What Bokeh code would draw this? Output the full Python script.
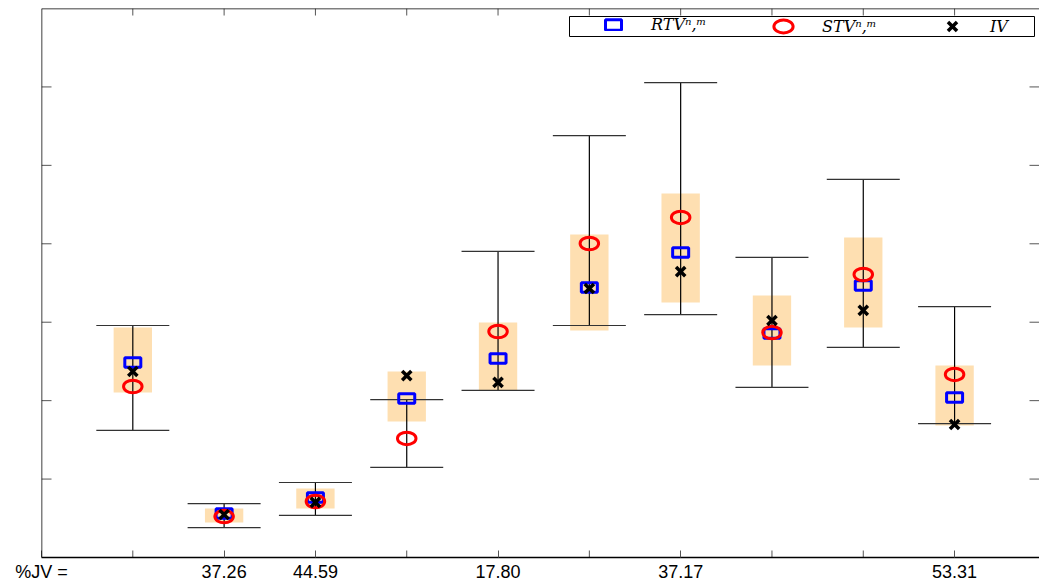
import math
from bokeh.plotting import figure
from bokeh.models import (ColumnDataSource, Whisker, TeeHead, Legend, LegendItem,
                          LinearAxis, FixedTicker, BoxAnnotation, Range1d, Span)
from bokeh.embed import file_html
from bokeh.resources import INLINE

# ---- data ----
positions = [1, 2, 3, 4, 5, 6, 7, 8, 9, 10]
jv_ticks = [0, 2, 3, 5, 7, 10]
jv_labels = ["%JV =", "37.26", "44.59", "17.80", "37.17", "53.31"]
whisker_high = [0.1479, 0.0344, 0.0478, 0.1007, 0.1951, 0.2690, 0.3028, 0.1913, 0.2410, 0.1600]
whisker_low = [0.0810, 0.0191, 0.0268, 0.0574, 0.1065, 0.1479, 0.1549, 0.1084, 0.1339, 0.0854]
box_high = [0.1466, 0.0312, 0.0440, 0.1186, 0.1498, 0.2059, 0.2321, 0.1670, 0.2040, 0.1224]
box_low = [0.1052, 0.0223, 0.0312, 0.0867, 0.1065, 0.1447, 0.1626, 0.1224, 0.1466, 0.0842]
rtv = [0.1243, 0.0281, 0.0383, 0.1014, 0.1269, 0.1721, 0.1944, 0.1428, 0.1734, 0.1020]
stv = [0.1090, 0.0261, 0.0357, 0.0759, 0.1441, 0.2002, 0.2168, 0.1434, 0.1804, 0.1167]
iv = [0.1186, 0.0274, 0.0351, 0.1160, 0.1116, 0.1715, 0.1823, 0.1511, 0.1575, 0.0848]
y_ticks = [0.05, 0.10, 0.15, 0.20, 0.25, 0.30]

X0, X1 = 0.0, 10.93
Y0, Y1 = 0.0, 0.35

src = ColumnDataSource(dict(x=positions, whi=whisker_high, wlo=whisker_low,
                            bhi=box_high, blo=box_low, rtv=rtv, stv=stv, iv=iv))

p = figure(frame_width=998, frame_height=549,
           x_range=Range1d(X0, X1), y_range=Range1d(Y0, Y1),
           output_backend="svg", toolbar_location=None,
           x_axis_location=None, y_axis_location=None,
           min_border_left=41, min_border_top=8, min_border_right=0, min_border_bottom=0)
p.outline_line_color = None
p.xgrid.visible = False
p.ygrid.visible = False
p.background_fill_color = "white"

# bottom axis with the %JV labels
xb = LinearAxis(ticker=FixedTicker(ticks=jv_ticks),
                major_label_overrides={t: l for t, l in zip(jv_ticks, jv_labels)})
xb.axis_line_color = "black"
xb.axis_line_width = 1.5
xb.major_tick_in = 7
xb.major_tick_out = 0
xb.major_tick_line_color = "#555555"
xb.minor_tick_line_color = None
xb.major_label_standoff = 4
xb.major_label_text_font = "Liberation Sans"
xb.major_label_text_font_size = "18px"
xb.major_label_text_color = "black"
p.add_layout(xb, "below")

# frame lines (left and top)
p.add_layout(Span(location=X0, dimension="height", line_color="black", line_width=1.5))
p.add_layout(Span(location=Y1, dimension="width", line_color="black", line_width=1.5))

# inward tick marks on the other sides
tick_col = "#555555"
bottom_extra = [t for t in positions if t not in jv_ticks]
p.ray(x=bottom_extra, y=[Y0] * len(bottom_extra), length=7, angle=math.pi / 2,
      length_units="screen", line_color=tick_col, line_width=1)
p.ray(x=positions, y=[Y1] * len(positions), length=7, angle=-math.pi / 2,
      length_units="screen", line_color=tick_col, line_width=1)
p.ray(x=[X0] * len(y_ticks), y=y_ticks, length=10, angle=0,
      length_units="screen", line_color=tick_col, line_width=1)
p.ray(x=[X1] * len(y_ticks), y=y_ticks, length=10, angle=math.pi,
      length_units="screen", line_color=tick_col, line_width=1)

# boxes
bx = p.vbar(x="x", width=0.42, top="bhi", bottom="blo", source=src,
            fill_color="#FEDFB1", line_color=None)
bx.level = "image"

# whiskers
w = Whisker(source=src, base="x", upper="whi", lower="wlo", dimension="height",
            line_color="black", line_width=1.2,
            upper_head=TeeHead(size=73, line_color="#333333", line_width=1.2),
            lower_head=TeeHead(size=73, line_color="#333333", line_width=1.2))
w.level = "underlay"
p.add_layout(w)

# markers
r_sq = p.rect(x="x", y="rtv", width=16, height=9.5, width_units="screen",
              height_units="screen", source=src, fill_color=None,
              line_color="#0000FF", line_width=3)
r_ci = p.ellipse(x="x", y="stv", width=18.5, height=12.5, width_units="screen",
                 height_units="screen", source=src, fill_color=None,
                 line_color="#FF0000", line_width=3)
r_x = p.scatter(x="x", y="iv", marker="x", size=13, source=src,
                line_color="black", line_width=3.5)

# legend frame
lbox = BoxAnnotation(left=528, right=993, bottom=521, top=541,
                     left_units="screen", right_units="screen",
                     bottom_units="screen", top_units="screen",
                     fill_color="white", fill_alpha=1.0,
                     line_color="black", line_width=1, line_alpha=1.0)
p.add_layout(lbox)

def make_legend(label, rend, loc, gw, gh, standoff):
    lg = Legend(items=[LegendItem(label=label, renderers=[rend])],
                location=loc, orientation="horizontal", padding=0, margin=0,
                spacing=0, label_standoff=standoff, glyph_width=gw, glyph_height=gh,
                label_height=16, border_line_alpha=0, background_fill_alpha=0,
                label_text_font="DejaVu Serif", label_text_font_style="italic",
                label_text_font_size="16px", label_text_color="black")
    p.add_layout(lg, "center")

make_legend("RTVⁿ,ᵐ", r_sq, (562, 523), 20, 13, 28)
make_legend("STVⁿ,ᵐ", r_ci, (728, 519), 28, 24, 25)
make_legend("IV", r_x, (895, 515), 32, 32, 22)

open("out.html", "w").write(file_html(p, INLINE))
